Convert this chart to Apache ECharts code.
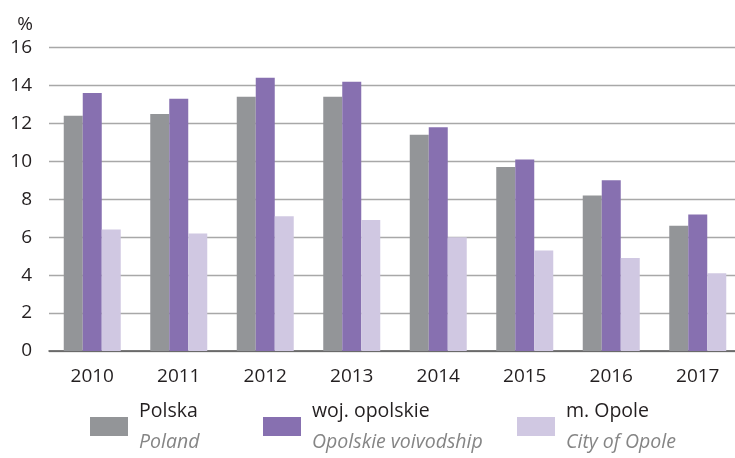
<!DOCTYPE html>
<html>
<head>
<meta charset="utf-8">
<script src="https://cdn.jsdelivr.net/npm/echarts@6/dist/echarts.min.js"></script>
<style>
  html, body { margin: 0; padding: 0; background: #fff; }
  #main { width: 735px; height: 458px; }
</style>
</head>
<body>
<div id="main"></div>
<script>
// data
var years = ['2010', '2011', '2012', '2013', '2014', '2015', '2016', '2017'];
var seriesNames = ['Polska', 'woj. opolskie', 'm. Opole'];
var seriesNamesEn = ['Poland', 'Opolskie voivodship', 'City of Opole'];
var polska = [12.4, 12.5, 13.4, 13.4, 11.4, 9.7, 8.2, 6.6];
var wojOpolskie = [13.6, 13.3, 14.4, 14.2, 11.8, 10.1, 9.0, 7.2];
var mOpole = [6.4, 6.2, 7.1, 6.9, 6.0, 5.3, 4.9, 4.1];
var yTicks = [0, 2, 4, 6, 8, 10, 12, 14, 16];

var colors = ['#939598', '#8770b0', '#d0c8e2'];
var font = '"Open Sans", sans-serif';

var chart = echarts.init(document.getElementById('main'));

// one legend per item so each can sit where it does in the original
var legendLeft = [90, 263, 517];
var legends = seriesNames.map(function (name, i) {
    return {
        data: [name],
        left: legendLeft[i],
        top: 401,
        padding: 0,
        icon: 'rect',
        itemWidth: 38,
        itemHeight: 19,
        selectedMode: false,
        formatter: function (n) {
            return '{a|' + n + '}\n{b|' + seriesNamesEn[seriesNames.indexOf(n)] + '}';
        },
        textStyle: {
            rich: {
                a: { fontFamily: font, fontSize: 19.5, color: '#231f20', lineHeight: 31, padding: [0, 0, 0, 6] },
                b: { fontFamily: font, fontSize: 19.5, fontStyle: 'italic', color: '#858585', lineHeight: 31, padding: [0, 0, 0, 6] }
            }
        }
    };
});

var barData = [polska, wojOpolskie, mOpole];

chart.setOption({
    animation: false,
    legend: legends,
    grid: {
        left: 49,
        top: 47.5,
        width: 692,
        height: 303.5,
        outerBoundsMode: 'none'
    },
    xAxis: {
        type: 'category',
        data: years,
        axisTick: { show: false },
        axisLine: { lineStyle: { color: '#555', width: 1.5 } },
        axisLabel: { fontFamily: font, fontSize: 19, color: '#231f20', margin: 16 }
    },
    yAxis: {
        type: 'value',
        min: yTicks[0],
        max: yTicks[yTicks.length - 1],
        interval: 2,
        name: '%',
        nameLocation: 'end',
        nameGap: 13,
        nameTextStyle: { fontFamily: font, fontSize: 19, color: '#231f20', padding: [0, 48, 0, 0] },
        axisLine: { show: false },
        axisTick: { show: false },
        axisLabel: { fontFamily: font, fontSize: 19, color: '#231f20', margin: 17 },
        splitLine: { lineStyle: { color: '#a8a8a8', width: 1.3 } }
    },
    series: seriesNames.map(function (name, i) {
        return {
            name: name,
            type: 'bar',
            data: barData[i],
            barWidth: 19,
            barGap: '0%',
            itemStyle: { color: colors[i] }
        };
    })
});
</script>
</body>
</html>
